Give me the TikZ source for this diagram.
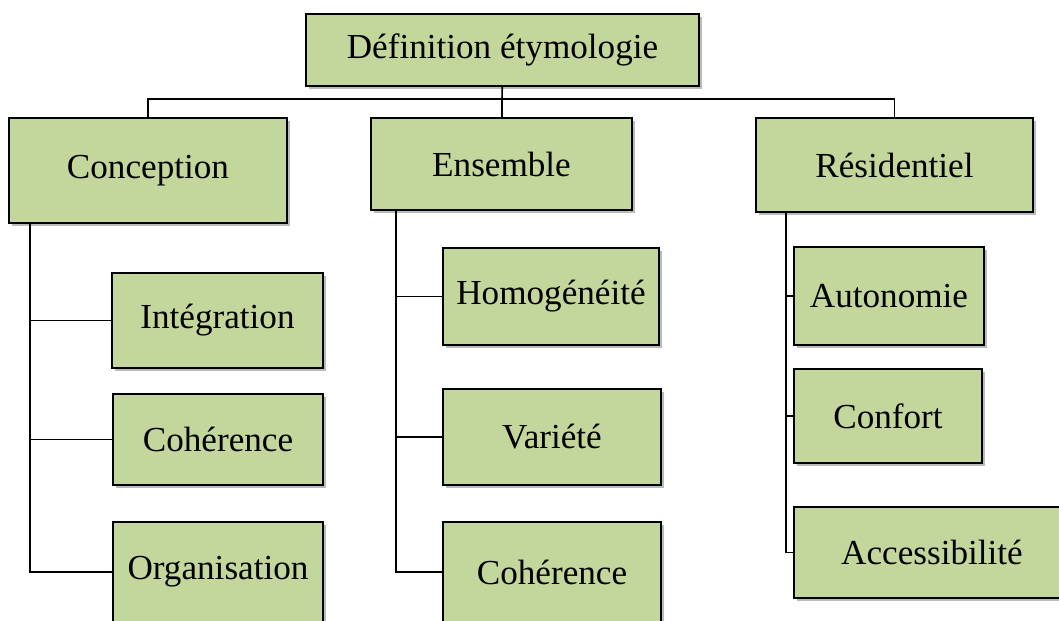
\documentclass[tikz,border=0pt]{standalone}
\usepackage{fontspec}
\setmainfont{Liberation Serif}
\usepackage{tikz}
\usetikzlibrary{shadows}
\definecolor{olive}{HTML}{C3D69B}

\begin{document}
\begin{tikzpicture}[-]
            \tikzstyle{box}=[rectangle,draw=black,line width=1.2pt,fill=olive,inner sep=0pt,
                drop shadow={shadow xshift=2pt,shadow yshift=-2pt,opacity=0.45,fill=black!60},
                font=\fontsize{25}{30}\selectfont]
            \tikzstyle{link}=[line width=1.2pt,black]

                \useasboundingbox (0,0) rectangle (26.475,-15.5);

                \node[box,minimum width=9.825cm,minimum height=1.8cm] (def) at (12.5625,-1.25){Définition étymologie};

                \node[box,minimum width=6.95cm,minimum height=2.625cm] (conc) at (3.7,-4.2625){Conception};
                \node[box,minimum width=6.525cm,minimum height=2.3cm] (ens) at (12.5375,-4.1){Ensemble};
                \node[box,minimum width=6.925cm,minimum height=2.35cm] (res) at (22.3625,-4.125){Résidentiel};

                \node[box,minimum width=5.275cm,minimum height=2.375cm] (conc-1) at (5.4375,-8.0125){Intégration};
                \node[box,minimum width=5.25cm,minimum height=2.275cm] (conc-2) at (5.45,-10.9875){Cohérence};
                \node[box,minimum width=5.25cm,minimum height=2.5cm] (conc-3) at (5.45,-14.3){Organisation};

                \node[box,minimum width=5.4cm,minimum height=2.425cm] (ens-1) at (13.775,-7.4125){Homogénéité};
                \node[box,minimum width=5.45cm,minimum height=2.4cm] (ens-2) at (13.8,-10.925){Variété};
                \node[box,minimum width=5.45cm,minimum height=2.5cm] (ens-3) at (13.8,-14.3){Cohérence};

                \node[box,minimum width=4.75cm,minimum height=2.45cm] (res-1) at (22.225,-7.4){Autonomie};
                \node[box,minimum width=4.7cm,minimum height=2.35cm] (res-2) at (22.2,-10.4){Confort};
                \node[box,minimum width=6.9cm,minimum height=2.275cm] (res-3) at (23.3,-13.8125){Accessibilité};

                % top level
                \draw[link] (def) -- (ens);
                \draw[link] (conc.north) -- ++(0,0.45) -| (res.north);

                % spines under each branch
                \coordinate (conc-s) at (0.75,-5.575);
                \coordinate (ens-s) at (9.9,-5.25);
                \coordinate (res-s) at (19.65,-5.3);

                \foreach \from/\to in {conc/1, conc/2, conc/3, ens/1, ens/2, ens/3, res/1, res/2, res/3}
                    \draw[link] (\from-s) |- (\from-\to.west);
        \end{tikzpicture}
\end{document}
